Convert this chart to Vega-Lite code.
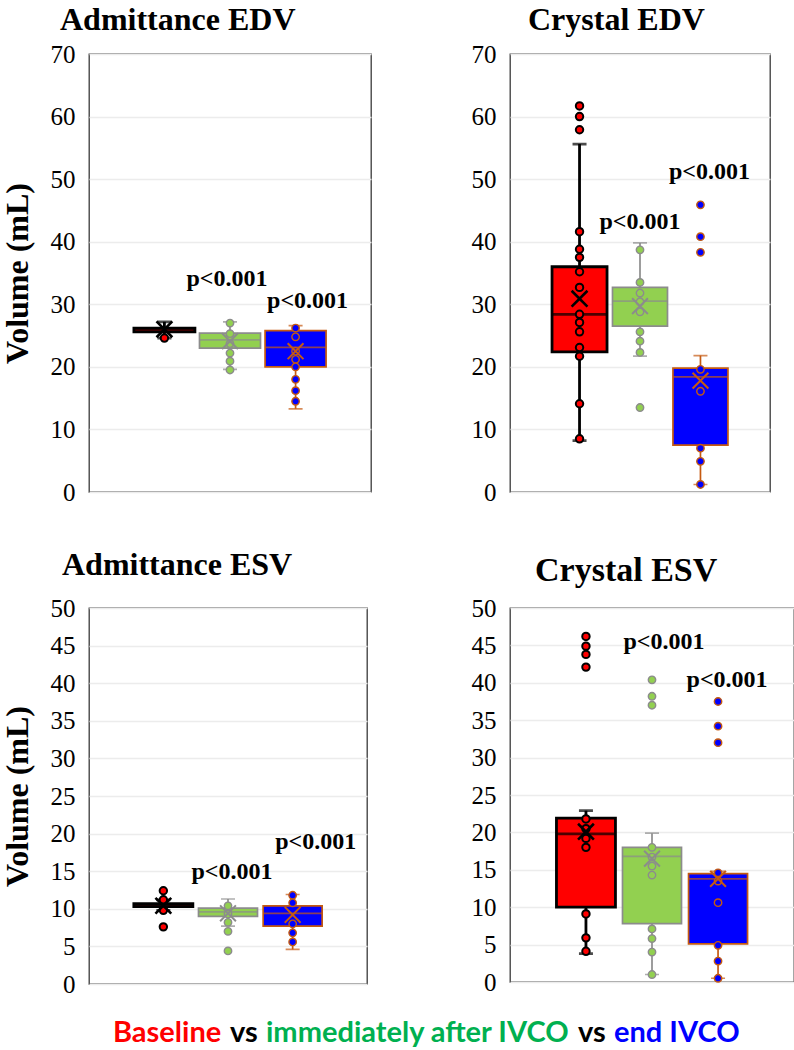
{
  "$schema": "https://vega.github.io/schema/vega-lite/v6.json",
  "padding": {"left": 0, "top": 3, "right": 0, "bottom": 0},
  "config": {
    "font": "Liberation Serif",
    "view": {"stroke": "#3a3a3a", "strokeWidth": 1.3},
    "axis": {"domain": false, "ticks": false, "labelFont": "Liberation Serif", "labelFontSize": 25, "labelColor": "#000000", "labelPadding": 14, "gridColor": "#ececec", "gridWidth": 1.5, "titleFont": "Liberation Serif", "titleFontSize": 32, "titleFontWeight": "bold", "titleColor": "#000000", "titlePadding": 16},
    "title": {"font": "Liberation Serif", "fontWeight": "bold", "fontSize": 32, "color": "#000000", "anchor": "start", "frame": "group", "baseline": "alphabetic", "offset": 5}
  },
  "datasets": {
    "stats": [
      {"panel": "P1", "group": "Baseline", "lower": 24.6, "q1": 25.6, "median": 26.0, "q3": 26.2, "upper": 27.2, "mean": 26.0},
      {"panel": "P1", "group": "Immediately", "lower": 19.6, "q1": 23.0, "median": 24.3, "q3": 25.4, "upper": 27.2, "mean": 24.1},
      {"panel": "P1", "group": "End", "lower": 13.3, "q1": 20.0, "median": 23.1, "q3": 25.8, "upper": 26.6, "mean": 22.5},
      {"panel": "P2", "group": "Baseline", "lower": 8.2, "q1": 22.4, "median": 28.4, "q3": 36.0, "upper": 55.6, "mean": 30.9},
      {"panel": "P2", "group": "Immediately", "lower": 21.7, "q1": 26.5, "median": 30.5, "q3": 32.7, "upper": 39.8, "mean": 29.7},
      {"panel": "P2", "group": "End", "lower": 1.2, "q1": 7.5, "median": 18.4, "q3": 19.8, "upper": 21.8, "mean": 17.8},
      {"panel": "P3", "group": "Baseline", "lower": 9.8, "q1": 10.3, "median": 10.5, "q3": 10.7, "upper": 11.2, "mean": 10.4},
      {"panel": "P3", "group": "Immediately", "lower": 7.7, "q1": 9.0, "median": 9.6, "q3": 10.1, "upper": 11.3, "mean": 9.4},
      {"panel": "P3", "group": "End", "lower": 4.6, "q1": 7.7, "median": 9.4, "q3": 10.4, "upper": 11.9, "mean": 9.2},
      {"panel": "P4", "group": "Baseline", "lower": 3.8, "q1": 10.0, "median": 19.8, "q3": 21.9, "upper": 22.9, "mean": 20.1},
      {"panel": "P4", "group": "Immediately", "lower": 1.0, "q1": 7.8, "median": 16.8, "q3": 18.0, "upper": 19.9, "mean": 16.5},
      {"panel": "P4", "group": "End", "lower": 0.5, "q1": 5.1, "median": 13.8, "q3": 14.5, "upper": 14.8, "mean": 13.8}
    ],
    "points": [
      {"panel": "P1", "group": "Baseline", "value": 24.6},
      {"panel": "P1", "group": "Immediately", "value": 27.0},
      {"panel": "P1", "group": "Immediately", "value": 25.3},
      {"panel": "P1", "group": "Immediately", "value": 23.7},
      {"panel": "P1", "group": "Immediately", "value": 22.2},
      {"panel": "P1", "group": "Immediately", "value": 20.9},
      {"panel": "P1", "group": "Immediately", "value": 19.5},
      {"panel": "P1", "group": "End", "value": 26.2},
      {"panel": "P1", "group": "End", "value": 24.8},
      {"panel": "P1", "group": "End", "value": 22.5},
      {"panel": "P1", "group": "End", "value": 21.2},
      {"panel": "P1", "group": "End", "value": 20.0},
      {"panel": "P1", "group": "End", "value": 18.0},
      {"panel": "P1", "group": "End", "value": 16.2},
      {"panel": "P1", "group": "End", "value": 14.5},
      {"panel": "P2", "group": "Baseline", "value": 61.7},
      {"panel": "P2", "group": "Baseline", "value": 60.0},
      {"panel": "P2", "group": "Baseline", "value": 57.9},
      {"panel": "P2", "group": "Baseline", "value": 41.6},
      {"panel": "P2", "group": "Baseline", "value": 38.8},
      {"panel": "P2", "group": "Baseline", "value": 37.5},
      {"panel": "P2", "group": "Baseline", "value": 35.2},
      {"panel": "P2", "group": "Baseline", "value": 32.7},
      {"panel": "P2", "group": "Baseline", "value": 28.4},
      {"panel": "P2", "group": "Baseline", "value": 27.1},
      {"panel": "P2", "group": "Baseline", "value": 25.6},
      {"panel": "P2", "group": "Baseline", "value": 23.1},
      {"panel": "P2", "group": "Baseline", "value": 21.7},
      {"panel": "P2", "group": "Baseline", "value": 14.1},
      {"panel": "P2", "group": "Baseline", "value": 8.5},
      {"panel": "P2", "group": "Immediately", "value": 38.7},
      {"panel": "P2", "group": "Immediately", "value": 33.5},
      {"panel": "P2", "group": "Immediately", "value": 31.8},
      {"panel": "P2", "group": "Immediately", "value": 30.4},
      {"panel": "P2", "group": "Immediately", "value": 28.8},
      {"panel": "P2", "group": "Immediately", "value": 25.6},
      {"panel": "P2", "group": "Immediately", "value": 24.1},
      {"panel": "P2", "group": "Immediately", "value": 22.3},
      {"panel": "P2", "group": "Immediately", "value": 13.5},
      {"panel": "P2", "group": "End", "value": 45.9},
      {"panel": "P2", "group": "End", "value": 40.8},
      {"panel": "P2", "group": "End", "value": 38.3},
      {"panel": "P2", "group": "End", "value": 19.6},
      {"panel": "P2", "group": "End", "value": 16.1},
      {"panel": "P2", "group": "End", "value": 7.0},
      {"panel": "P2", "group": "End", "value": 4.9},
      {"panel": "P2", "group": "End", "value": 1.2},
      {"panel": "P3", "group": "Baseline", "value": 12.4},
      {"panel": "P3", "group": "Baseline", "value": 11.2},
      {"panel": "P3", "group": "Baseline", "value": 9.8},
      {"panel": "P3", "group": "Baseline", "value": 7.6},
      {"panel": "P3", "group": "Immediately", "value": 10.4},
      {"panel": "P3", "group": "Immediately", "value": 9.3},
      {"panel": "P3", "group": "Immediately", "value": 8.2},
      {"panel": "P3", "group": "Immediately", "value": 7.0},
      {"panel": "P3", "group": "Immediately", "value": 4.4},
      {"panel": "P3", "group": "End", "value": 11.8},
      {"panel": "P3", "group": "End", "value": 10.8},
      {"panel": "P3", "group": "End", "value": 8.0},
      {"panel": "P3", "group": "End", "value": 6.8},
      {"panel": "P3", "group": "End", "value": 5.6},
      {"panel": "P4", "group": "Baseline", "value": 46.2},
      {"panel": "P4", "group": "Baseline", "value": 44.9},
      {"panel": "P4", "group": "Baseline", "value": 43.8},
      {"panel": "P4", "group": "Baseline", "value": 42.1},
      {"panel": "P4", "group": "Baseline", "value": 21.8},
      {"panel": "P4", "group": "Baseline", "value": 20.5},
      {"panel": "P4", "group": "Baseline", "value": 19.2},
      {"panel": "P4", "group": "Baseline", "value": 18.0},
      {"panel": "P4", "group": "Baseline", "value": 9.1},
      {"panel": "P4", "group": "Baseline", "value": 5.9},
      {"panel": "P4", "group": "Baseline", "value": 4.1},
      {"panel": "P4", "group": "Immediately", "value": 40.4},
      {"panel": "P4", "group": "Immediately", "value": 38.2},
      {"panel": "P4", "group": "Immediately", "value": 37.0},
      {"panel": "P4", "group": "Immediately", "value": 18.0},
      {"panel": "P4", "group": "Immediately", "value": 16.7},
      {"panel": "P4", "group": "Immediately", "value": 15.5},
      {"panel": "P4", "group": "Immediately", "value": 14.3},
      {"panel": "P4", "group": "Immediately", "value": 7.1},
      {"panel": "P4", "group": "Immediately", "value": 5.8},
      {"panel": "P4", "group": "Immediately", "value": 4.0},
      {"panel": "P4", "group": "Immediately", "value": 1.0},
      {"panel": "P4", "group": "End", "value": 37.5},
      {"panel": "P4", "group": "End", "value": 34.2},
      {"panel": "P4", "group": "End", "value": 32.0},
      {"panel": "P4", "group": "End", "value": 14.6},
      {"panel": "P4", "group": "End", "value": 13.5},
      {"panel": "P4", "group": "End", "value": 10.6},
      {"panel": "P4", "group": "End", "value": 4.9},
      {"panel": "P4", "group": "End", "value": 2.8},
      {"panel": "P4", "group": "End", "value": 0.5}
    ],
    "labels": [
      {"panel": "P1", "group": "Immediately", "value": 34.0, "label": "p<0.001"},
      {"panel": "P1", "group": "End", "value": 30.5, "label": "p<0.001"},
      {"panel": "P2", "group": "Immediately", "value": 43.1, "label": "p<0.001"},
      {"panel": "P2", "group": "End", "value": 51.1, "label": "p<0.001"},
      {"panel": "P3", "group": "Immediately", "value": 14.9, "label": "p<0.001"},
      {"panel": "P3", "group": "End", "value": 18.9, "label": "p<0.001"},
      {"panel": "P4", "group": "Immediately", "value": 45.5, "label": "p<0.001"},
      {"panel": "P4", "group": "End", "value": 40.4, "label": "p<0.001"}
    ],
    "legendrows": [
      {"seg": "Baseline"},
      {"seg": "vs"},
      {"seg": "immediately after IVCO"},
      {"seg": "vs "},
      {"seg": "end IVCO"}
    ]
  },
  "vconcat": [
    {
      "hconcat": [
        {
          "width": 282, "height": 438,
          "title": {"text": "Admittance EDV", "dx": -29},
          "encoding": {"x": {"field": "group", "type": "nominal", "scale": {"domain": ["Baseline", "Immediately", "End"], "paddingInner": 0.06, "paddingOuter": 0.68}, "axis": null}},
          "layer": [
            {"data": {"name": "stats"}, "transform": [{"filter": "datum.panel === 'P1'"}], "mark": {"type": "rule"},
             "encoding": {"y": {"field": "lower", "type": "quantitative", "scale": {"domain": [0, 70], "nice": false}, "axis": {"title": "Volume (mL)", "values": [0, 10, 20, 30, 40, 50, 60, 70]}}, "y2": {"field": "upper"},
               "stroke": {"field": "group", "type": "nominal", "scale": {"domain": ["Baseline", "Immediately", "End"], "range": ["#000000", "#8c8c8c", "#c55a11"]}, "legend": null},
               "strokeWidth": {"condition": {"test": "datum.group === 'Baseline'", "value": 2.8}, "value": 1.7}}},
            {"data": {"name": "stats"}, "transform": [{"filter": "datum.panel === 'P1'"}], "mark": {"type": "bar", "size": 61},
             "encoding": {"y": {"field": "q1", "type": "quantitative", "axis": {"title": "Volume (mL)", "values": [0, 10, 20, 30, 40, 50, 60, 70]}}, "y2": {"field": "q3"},
               "fill": {"field": "group", "type": "nominal", "scale": {"domain": ["Baseline", "Immediately", "End"], "range": ["#ff0000", "#92d050", "#0000ff"]}, "legend": null},
               "stroke": {"field": "group", "type": "nominal", "legend": null},
               "strokeWidth": {"condition": {"test": "datum.group === 'Baseline'", "value": 2.8}, "value": 1.7}}},
            {"data": {"name": "stats"}, "transform": [{"filter": "datum.panel === 'P1'"}], "mark": {"type": "tick", "orient": "horizontal", "size": 61, "thickness": 0, "filled": false},
             "encoding": {"y": {"field": "median", "type": "quantitative", "axis": {"title": "Volume (mL)", "values": [0, 10, 20, 30, 40, 50, 60, 70]}}, "stroke": {"field": "group", "type": "nominal", "legend": null}, "strokeWidth": {"condition": {"test": "datum.group === 'Baseline'", "value": 2.8}, "value": 1.7}}},
            {"data": {"name": "stats"}, "transform": [{"filter": "datum.panel === 'P1'"}], "mark": {"type": "tick", "orient": "horizontal", "size": 14, "thickness": 0, "filled": false},
             "encoding": {"y": {"field": "upper", "type": "quantitative", "axis": {"title": "Volume (mL)", "values": [0, 10, 20, 30, 40, 50, 60, 70]}}, "stroke": {"field": "group", "type": "nominal", "legend": null}, "strokeWidth": {"condition": {"test": "datum.group === 'Baseline'", "value": 2.8}, "value": 1.7}}},
            {"data": {"name": "stats"}, "transform": [{"filter": "datum.panel === 'P1'"}], "mark": {"type": "tick", "orient": "horizontal", "size": 14, "thickness": 0, "filled": false},
             "encoding": {"y": {"field": "lower", "type": "quantitative", "axis": {"title": "Volume (mL)", "values": [0, 10, 20, 30, 40, 50, 60, 70]}}, "stroke": {"field": "group", "type": "nominal", "legend": null}, "strokeWidth": {"condition": {"test": "datum.group === 'Baseline'", "value": 2.8}, "value": 1.7}}},
            {"data": {"name": "points"}, "transform": [{"filter": "datum.panel === 'P1'"}], "mark": {"type": "point", "filled": true, "size": 55, "opacity": 1},
             "encoding": {"y": {"field": "value", "type": "quantitative", "axis": {"title": "Volume (mL)", "values": [0, 10, 20, 30, 40, 50, 60, 70]}}, "fill": {"field": "group", "type": "nominal", "legend": null}, "stroke": {"field": "group", "type": "nominal", "legend": null}, "strokeWidth": {"condition": {"test": "datum.group === 'Baseline'", "value": 2}, "value": 1.4}}},
            {"data": {"name": "stats"}, "transform": [{"filter": "datum.panel === 'P1'"}], "mark": {"type": "point", "shape": "M-1,-1L1,1M-1,1L1,-1", "size": 250, "filled": false, "opacity": 1},
             "encoding": {"y": {"field": "mean", "type": "quantitative", "axis": {"title": "Volume (mL)", "values": [0, 10, 20, 30, 40, 50, 60, 70]}}, "stroke": {"field": "group", "type": "nominal", "legend": null}, "strokeWidth": {"condition": {"test": "datum.group === 'Baseline'", "value": 2.6}, "value": 2}}},
            {"data": {"name": "labels"}, "transform": [{"filter": "datum.panel === 'P1' && datum.group === 'Immediately'"}], "mark": {"type": "text", "fontWeight": "bold", "fontSize": 24, "dx": -3, "baseline": "middle", "color": "#000000"},
             "encoding": {"y": {"field": "value", "type": "quantitative", "axis": {"title": "Volume (mL)", "values": [0, 10, 20, 30, 40, 50, 60, 70]}}, "text": {"field": "label"}}},
            {"data": {"name": "labels"}, "transform": [{"filter": "datum.panel === 'P1' && datum.group === 'End'"}], "mark": {"type": "text", "fontWeight": "bold", "fontSize": 24, "dx": 12, "baseline": "middle", "color": "#000000"},
             "encoding": {"y": {"field": "value", "type": "quantitative", "axis": {"title": "Volume (mL)", "values": [0, 10, 20, 30, 40, 50, 60, 70]}}, "text": {"field": "label"}}}
          ]
        },
        {
          "width": 260, "height": 438,
          "title": {"text": "Crystal EDV", "dx": 18},
          "encoding": {"x": {"field": "group", "type": "nominal", "scale": {"domain": ["Baseline", "Immediately", "End"], "paddingInner": 0.06, "paddingOuter": 0.68}, "axis": null}},
          "layer": [
            {"data": {"name": "stats"}, "transform": [{"filter": "datum.panel === 'P2'"}], "mark": {"type": "rule"},
             "encoding": {"y": {"field": "lower", "type": "quantitative", "scale": {"domain": [0, 70], "nice": false}, "axis": {"title": null, "values": [0, 10, 20, 30, 40, 50, 60, 70]}}, "y2": {"field": "upper"},
               "stroke": {"field": "group", "type": "nominal", "legend": null}, "strokeWidth": {"condition": {"test": "datum.group === 'Baseline'", "value": 2.8}, "value": 1.7}}},
            {"data": {"name": "stats"}, "transform": [{"filter": "datum.panel === 'P2'"}], "mark": {"type": "bar", "size": 55},
             "encoding": {"y": {"field": "q1", "type": "quantitative", "axis": {"title": null, "values": [0, 10, 20, 30, 40, 50, 60, 70]}}, "y2": {"field": "q3"}, "fill": {"field": "group", "type": "nominal", "legend": null}, "stroke": {"field": "group", "type": "nominal", "legend": null}, "strokeWidth": {"condition": {"test": "datum.group === 'Baseline'", "value": 2.8}, "value": 1.7}}},
            {"data": {"name": "stats"}, "transform": [{"filter": "datum.panel === 'P2'"}], "mark": {"type": "tick", "orient": "horizontal", "size": 55, "thickness": 0, "filled": false},
             "encoding": {"y": {"field": "median", "type": "quantitative", "axis": {"title": null, "values": [0, 10, 20, 30, 40, 50, 60, 70]}}, "stroke": {"field": "group", "type": "nominal", "legend": null}, "strokeWidth": {"condition": {"test": "datum.group === 'Baseline'", "value": 2.8}, "value": 1.7}}},
            {"data": {"name": "stats"}, "transform": [{"filter": "datum.panel === 'P2'"}], "mark": {"type": "tick", "orient": "horizontal", "size": 14, "thickness": 0, "filled": false},
             "encoding": {"y": {"field": "upper", "type": "quantitative", "axis": {"title": null, "values": [0, 10, 20, 30, 40, 50, 60, 70]}}, "stroke": {"field": "group", "type": "nominal", "legend": null}, "strokeWidth": {"condition": {"test": "datum.group === 'Baseline'", "value": 2.8}, "value": 1.7}}},
            {"data": {"name": "stats"}, "transform": [{"filter": "datum.panel === 'P2'"}], "mark": {"type": "tick", "orient": "horizontal", "size": 14, "thickness": 0, "filled": false},
             "encoding": {"y": {"field": "lower", "type": "quantitative", "axis": {"title": null, "values": [0, 10, 20, 30, 40, 50, 60, 70]}}, "stroke": {"field": "group", "type": "nominal", "legend": null}, "strokeWidth": {"condition": {"test": "datum.group === 'Baseline'", "value": 2.8}, "value": 1.7}}},
            {"data": {"name": "points"}, "transform": [{"filter": "datum.panel === 'P2'"}], "mark": {"type": "point", "filled": true, "size": 55, "opacity": 1},
             "encoding": {"y": {"field": "value", "type": "quantitative", "axis": {"title": null, "values": [0, 10, 20, 30, 40, 50, 60, 70]}}, "fill": {"field": "group", "type": "nominal", "legend": null}, "stroke": {"field": "group", "type": "nominal", "legend": null}, "strokeWidth": {"condition": {"test": "datum.group === 'Baseline'", "value": 2}, "value": 1.4}}},
            {"data": {"name": "stats"}, "transform": [{"filter": "datum.panel === 'P2'"}], "mark": {"type": "point", "shape": "M-1,-1L1,1M-1,1L1,-1", "size": 250, "filled": false, "opacity": 1},
             "encoding": {"y": {"field": "mean", "type": "quantitative", "axis": {"title": null, "values": [0, 10, 20, 30, 40, 50, 60, 70]}}, "stroke": {"field": "group", "type": "nominal", "legend": null}, "strokeWidth": {"condition": {"test": "datum.group === 'Baseline'", "value": 2.6}, "value": 2}}},
            {"data": {"name": "labels"}, "transform": [{"filter": "datum.panel === 'P2' && datum.group === 'Immediately'"}], "mark": {"type": "text", "fontWeight": "bold", "fontSize": 24, "dx": 0, "baseline": "middle", "color": "#000000"},
             "encoding": {"y": {"field": "value", "type": "quantitative", "axis": {"title": null, "values": [0, 10, 20, 30, 40, 50, 60, 70]}}, "text": {"field": "label"}}},
            {"data": {"name": "labels"}, "transform": [{"filter": "datum.panel === 'P2' && datum.group === 'End'"}], "mark": {"type": "text", "fontWeight": "bold", "fontSize": 24, "dx": 9, "baseline": "middle", "color": "#000000"},
             "encoding": {"y": {"field": "value", "type": "quantitative", "axis": {"title": null, "values": [0, 10, 20, 30, 40, 50, 60, 70]}}, "text": {"field": "label"}}}
          ]
        }
      ],
      "spacing": 98,
      "align": "none"
    },
    {
      "hconcat": [
        {
          "width": 278, "height": 376,
          "title": {"text": "Admittance ESV", "dx": -27, "offset": 14},
          "encoding": {"x": {"field": "group", "type": "nominal", "scale": {"domain": ["Baseline", "Immediately", "End"], "paddingInner": 0.06, "paddingOuter": 0.68}, "axis": null}},
          "layer": [
            {"data": {"name": "stats"}, "transform": [{"filter": "datum.panel === 'P3'"}], "mark": {"type": "rule"},
             "encoding": {"y": {"field": "lower", "type": "quantitative", "scale": {"domain": [0, 50], "nice": false}, "axis": {"title": "Volume (mL)", "values": [0, 5, 10, 15, 20, 25, 30, 35, 40, 45, 50]}}, "y2": {"field": "upper"},
               "stroke": {"field": "group", "type": "nominal", "legend": null}, "strokeWidth": {"condition": {"test": "datum.group === 'Baseline'", "value": 2.8}, "value": 1.7}}},
            {"data": {"name": "stats"}, "transform": [{"filter": "datum.panel === 'P3'"}], "mark": {"type": "bar", "size": 59},
             "encoding": {"y": {"field": "q1", "type": "quantitative", "axis": {"title": "Volume (mL)", "values": [0, 5, 10, 15, 20, 25, 30, 35, 40, 45, 50]}}, "y2": {"field": "q3"}, "fill": {"field": "group", "type": "nominal", "legend": null}, "stroke": {"field": "group", "type": "nominal", "legend": null}, "strokeWidth": {"condition": {"test": "datum.group === 'Baseline'", "value": 2.8}, "value": 1.7}}},
            {"data": {"name": "stats"}, "transform": [{"filter": "datum.panel === 'P3'"}], "mark": {"type": "tick", "orient": "horizontal", "size": 59, "thickness": 0, "filled": false},
             "encoding": {"y": {"field": "median", "type": "quantitative", "axis": {"title": "Volume (mL)", "values": [0, 5, 10, 15, 20, 25, 30, 35, 40, 45, 50]}}, "stroke": {"field": "group", "type": "nominal", "legend": null}, "strokeWidth": {"condition": {"test": "datum.group === 'Baseline'", "value": 2.8}, "value": 1.7}}},
            {"data": {"name": "stats"}, "transform": [{"filter": "datum.panel === 'P3'"}], "mark": {"type": "tick", "orient": "horizontal", "size": 14, "thickness": 0, "filled": false},
             "encoding": {"y": {"field": "upper", "type": "quantitative", "axis": {"title": "Volume (mL)", "values": [0, 5, 10, 15, 20, 25, 30, 35, 40, 45, 50]}}, "stroke": {"field": "group", "type": "nominal", "legend": null}, "strokeWidth": {"condition": {"test": "datum.group === 'Baseline'", "value": 2.8}, "value": 1.7}}},
            {"data": {"name": "stats"}, "transform": [{"filter": "datum.panel === 'P3'"}], "mark": {"type": "tick", "orient": "horizontal", "size": 14, "thickness": 0, "filled": false},
             "encoding": {"y": {"field": "lower", "type": "quantitative", "axis": {"title": "Volume (mL)", "values": [0, 5, 10, 15, 20, 25, 30, 35, 40, 45, 50]}}, "stroke": {"field": "group", "type": "nominal", "legend": null}, "strokeWidth": {"condition": {"test": "datum.group === 'Baseline'", "value": 2.8}, "value": 1.7}}},
            {"data": {"name": "points"}, "transform": [{"filter": "datum.panel === 'P3'"}], "mark": {"type": "point", "filled": true, "size": 55, "opacity": 1},
             "encoding": {"y": {"field": "value", "type": "quantitative", "axis": {"title": "Volume (mL)", "values": [0, 5, 10, 15, 20, 25, 30, 35, 40, 45, 50]}}, "fill": {"field": "group", "type": "nominal", "legend": null}, "stroke": {"field": "group", "type": "nominal", "legend": null}, "strokeWidth": {"condition": {"test": "datum.group === 'Baseline'", "value": 2}, "value": 1.4}}},
            {"data": {"name": "stats"}, "transform": [{"filter": "datum.panel === 'P3'"}], "mark": {"type": "point", "shape": "M-1,-1L1,1M-1,1L1,-1", "size": 250, "filled": false, "opacity": 1},
             "encoding": {"y": {"field": "mean", "type": "quantitative", "axis": {"title": "Volume (mL)", "values": [0, 5, 10, 15, 20, 25, 30, 35, 40, 45, 50]}}, "stroke": {"field": "group", "type": "nominal", "legend": null}, "strokeWidth": {"condition": {"test": "datum.group === 'Baseline'", "value": 2.6}, "value": 2}}},
            {"data": {"name": "labels"}, "transform": [{"filter": "datum.panel === 'P3' && datum.group === 'Immediately'"}], "mark": {"type": "text", "fontWeight": "bold", "fontSize": 24, "dx": 4, "baseline": "middle", "color": "#000000"},
             "encoding": {"y": {"field": "value", "type": "quantitative", "axis": {"title": "Volume (mL)", "values": [0, 5, 10, 15, 20, 25, 30, 35, 40, 45, 50]}}, "text": {"field": "label"}}},
            {"data": {"name": "labels"}, "transform": [{"filter": "datum.panel === 'P3' && datum.group === 'End'"}], "mark": {"type": "text", "fontWeight": "bold", "fontSize": 24, "dx": 23, "baseline": "middle", "color": "#000000"},
             "encoding": {"y": {"field": "value", "type": "quantitative", "axis": {"title": "Volume (mL)", "values": [0, 5, 10, 15, 20, 25, 30, 35, 40, 45, 50]}}, "text": {"field": "label"}}}
          ]
        },
        {
          "width": 284, "height": 374,
          "title": {"text": "Crystal ESV", "dx": 25, "fontSize": 34, "offset": 8},
          "encoding": {"x": {"field": "group", "type": "nominal", "scale": {"domain": ["Baseline", "Immediately", "End"], "paddingInner": 0.06, "paddingOuter": 0.68}, "axis": null}},
          "layer": [
            {"data": {"name": "stats"}, "transform": [{"filter": "datum.panel === 'P4'"}], "mark": {"type": "rule"},
             "encoding": {"y": {"field": "lower", "type": "quantitative", "scale": {"domain": [0, 50], "nice": false}, "axis": {"title": null, "values": [0, 5, 10, 15, 20, 25, 30, 35, 40, 45, 50]}}, "y2": {"field": "upper"},
               "stroke": {"field": "group", "type": "nominal", "legend": null}, "strokeWidth": {"condition": {"test": "datum.group === 'Baseline'", "value": 2.8}, "value": 1.7}}},
            {"data": {"name": "stats"}, "transform": [{"filter": "datum.panel === 'P4'"}], "mark": {"type": "bar", "size": 59},
             "encoding": {"y": {"field": "q1", "type": "quantitative", "axis": {"title": null, "values": [0, 5, 10, 15, 20, 25, 30, 35, 40, 45, 50]}}, "y2": {"field": "q3"}, "fill": {"field": "group", "type": "nominal", "legend": null}, "stroke": {"field": "group", "type": "nominal", "legend": null}, "strokeWidth": {"condition": {"test": "datum.group === 'Baseline'", "value": 2.8}, "value": 1.7}}},
            {"data": {"name": "stats"}, "transform": [{"filter": "datum.panel === 'P4'"}], "mark": {"type": "tick", "orient": "horizontal", "size": 59, "thickness": 0, "filled": false},
             "encoding": {"y": {"field": "median", "type": "quantitative", "axis": {"title": null, "values": [0, 5, 10, 15, 20, 25, 30, 35, 40, 45, 50]}}, "stroke": {"field": "group", "type": "nominal", "legend": null}, "strokeWidth": {"condition": {"test": "datum.group === 'Baseline'", "value": 2.8}, "value": 1.7}}},
            {"data": {"name": "stats"}, "transform": [{"filter": "datum.panel === 'P4'"}], "mark": {"type": "tick", "orient": "horizontal", "size": 14, "thickness": 0, "filled": false},
             "encoding": {"y": {"field": "upper", "type": "quantitative", "axis": {"title": null, "values": [0, 5, 10, 15, 20, 25, 30, 35, 40, 45, 50]}}, "stroke": {"field": "group", "type": "nominal", "legend": null}, "strokeWidth": {"condition": {"test": "datum.group === 'Baseline'", "value": 2.8}, "value": 1.7}}},
            {"data": {"name": "stats"}, "transform": [{"filter": "datum.panel === 'P4'"}], "mark": {"type": "tick", "orient": "horizontal", "size": 14, "thickness": 0, "filled": false},
             "encoding": {"y": {"field": "lower", "type": "quantitative", "axis": {"title": null, "values": [0, 5, 10, 15, 20, 25, 30, 35, 40, 45, 50]}}, "stroke": {"field": "group", "type": "nominal", "legend": null}, "strokeWidth": {"condition": {"test": "datum.group === 'Baseline'", "value": 2.8}, "value": 1.7}}},
            {"data": {"name": "points"}, "transform": [{"filter": "datum.panel === 'P4'"}], "mark": {"type": "point", "filled": true, "size": 55, "opacity": 1},
             "encoding": {"y": {"field": "value", "type": "quantitative", "axis": {"title": null, "values": [0, 5, 10, 15, 20, 25, 30, 35, 40, 45, 50]}}, "fill": {"field": "group", "type": "nominal", "legend": null}, "stroke": {"field": "group", "type": "nominal", "legend": null}, "strokeWidth": {"condition": {"test": "datum.group === 'Baseline'", "value": 2}, "value": 1.4}}},
            {"data": {"name": "stats"}, "transform": [{"filter": "datum.panel === 'P4'"}], "mark": {"type": "point", "shape": "M-1,-1L1,1M-1,1L1,-1", "size": 250, "filled": false, "opacity": 1},
             "encoding": {"y": {"field": "mean", "type": "quantitative", "axis": {"title": null, "values": [0, 5, 10, 15, 20, 25, 30, 35, 40, 45, 50]}}, "stroke": {"field": "group", "type": "nominal", "legend": null}, "strokeWidth": {"condition": {"test": "datum.group === 'Baseline'", "value": 2.6}, "value": 2}}},
            {"data": {"name": "labels"}, "transform": [{"filter": "datum.panel === 'P4' && datum.group === 'Immediately'"}], "mark": {"type": "text", "fontWeight": "bold", "fontSize": 24, "dx": 12, "baseline": "middle", "color": "#000000"},
             "encoding": {"y": {"field": "value", "type": "quantitative", "axis": {"title": null, "values": [0, 5, 10, 15, 20, 25, 30, 35, 40, 45, 50]}}, "text": {"field": "label"}}},
            {"data": {"name": "labels"}, "transform": [{"filter": "datum.panel === 'P4' && datum.group === 'End'"}], "mark": {"type": "text", "fontWeight": "bold", "fontSize": 24, "dx": 9, "baseline": "middle", "color": "#000000"},
             "encoding": {"y": {"field": "value", "type": "quantitative", "axis": {"title": null, "values": [0, 5, 10, 15, 20, 25, 30, 35, 40, 45, 50]}}, "text": {"field": "label"}}}
          ]
        }
      ],
      "spacing": 102,
      "align": "none"
    },
    {
      "width": 600, "height": 1,
      "view": {"stroke": null},
      "data": {"name": "legendrows"},
      "mark": {"type": "point", "opacity": 0},
      "encoding": {
        "color": {"field": "seg", "type": "nominal",
          "scale": {"domain": ["Baseline", "vs", "immediately after IVCO", "vs ", "end IVCO"], "range": ["#ff0000", "#000000", "#00b050", "#000000", "#0000ff"]},
          "legend": {"orient": "none", "legendX": 24, "legendY": 950, "direction": "horizontal", "title": null,
            "symbolOpacity": 0, "symbolSize": 1, "symbolStrokeWidth": 0, "labelOffset": -29, "columnPadding": 8,
            "labelFont": "Lato", "labelFontWeight": "bold", "labelFontSize": 29, "labelLimit": 0, "labelBaseline": "top",
            "labelExpr": "trim(datum.label)",
            "labelColor": {"expr": "datum.value === 'Baseline' ? '#ff0000' : datum.value === 'immediately after IVCO' ? '#00b050' : datum.value === 'end IVCO' ? '#0000ff' : '#000000'"}}
        }
      }
    }
  ],
  "spacing": 42,
  "align": "none"
}
